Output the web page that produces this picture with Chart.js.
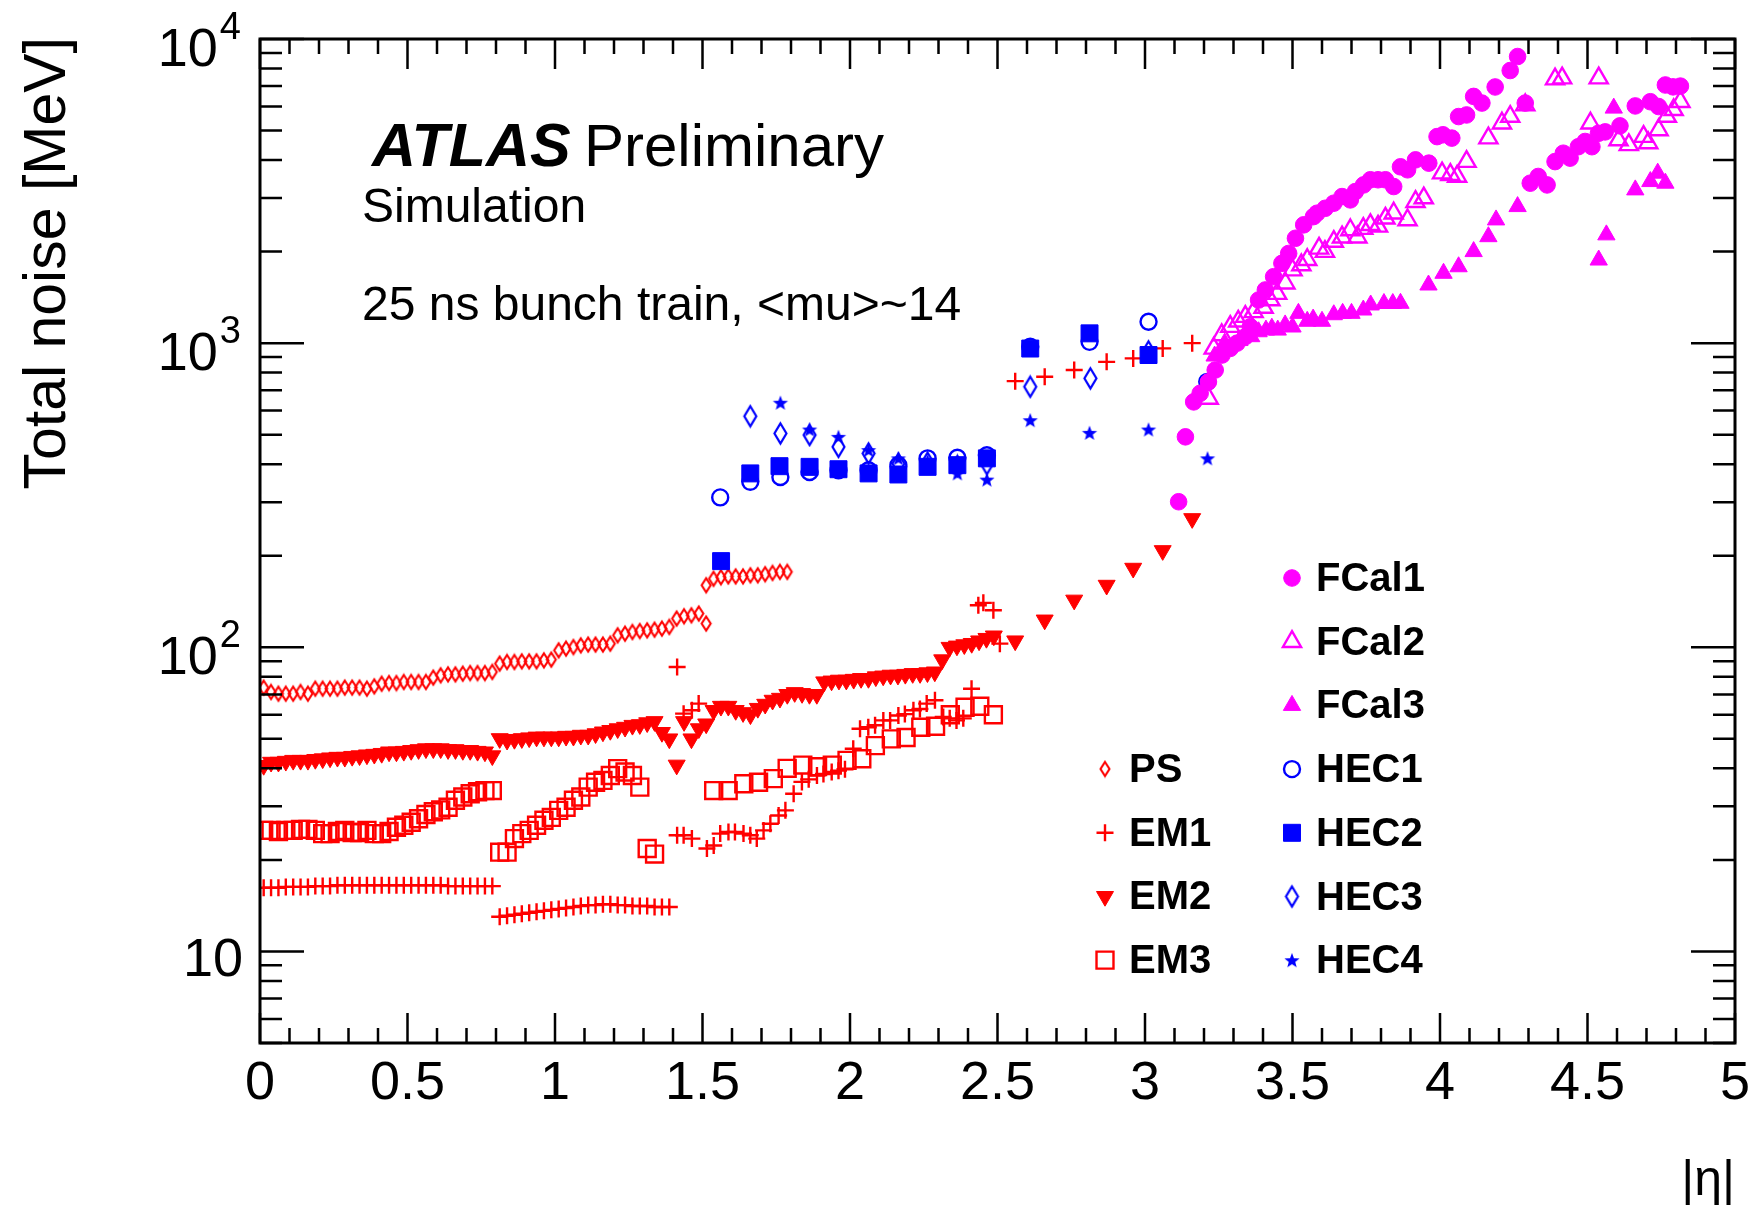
<!DOCTYPE html>
<html>
<head>
<meta charset="utf-8">
<title>Total noise vs |eta|</title>
<script src="https://cdn.jsdelivr.net/npm/chart.js@4.4.1/dist/chart.umd.min.js"></script>
<style>
  html, body { margin: 0; padding: 0; background: #fff; }
  #wrap { width: 1755px; height: 1215px; }
</style>
</head>
<body>
<div id="wrap"><canvas id="noiseChart" width="1755" height="1215"></canvas></div>
<script>
// ---------------------------------------------------------------
// Data (|eta| bins and total noise in MeV)
// ---------------------------------------------------------------
const etaBins = [
  0.0125, 0.0375, 0.0625, 0.0875, 0.1125, 0.1375, 0.1625, 0.1875, 0.2125, 0.2375,
  0.2625, 0.2875, 0.3125, 0.3375, 0.3625, 0.3875, 0.4125, 0.4375, 0.4625, 0.4875,
  0.5125, 0.5375, 0.5625, 0.5875, 0.6125, 0.6375, 0.6625, 0.6875, 0.7125, 0.7375,
  0.7625, 0.7875, 0.8125, 0.8375, 0.8625, 0.8875, 0.9125, 0.9375, 0.9625, 0.9875,
  1.0125, 1.0375, 1.0625, 1.0875, 1.1125, 1.1375, 1.1625, 1.1875, 1.2125, 1.2375,
  1.2625, 1.2875, 1.3125, 1.3375, 1.3625, 1.3875, 1.4125, 1.4375, 1.4625, 1.4875,
  1.5125, 1.5375, 1.5625, 1.5875, 1.6125, 1.6375, 1.6625, 1.6875, 1.7125, 1.7375,
  1.7625, 1.7875, 1.8125, 1.8375, 1.8625, 1.8875, 1.9125, 1.9375, 1.9625, 1.9875,
  2.0125, 2.0375, 2.0625, 2.0875, 2.1125, 2.1375, 2.1625, 2.1875, 2.2125, 2.2375,
  2.2625, 2.2875, 2.3125, 2.3375, 2.3625, 2.3875, 2.4125, 2.4375, 2.4625, 2.4875
];

// PS (presampler)
const psEta = etaBins.slice(0, 60).concat([1.5125]).concat(etaBins.slice(60, 72));
const psNoise = [
  73.7, 71.3, 70.4, 70.4, 70.4, 71.3, 70.4, 73.1, 73.1, 73.1,
  73.1, 73.7, 73.7, 73.7, 73.1, 74.4, 75.9, 76.3, 76.3, 76.9,
  76.9, 76.9, 76.9, 79.5, 80.9, 81.5, 81.5, 81.9, 82.3, 82.3,
  82.3, 83.0, 88.4, 89.5, 89.5, 89.9, 89.9, 89.9, 90.6, 91.1,
  97.7, 99.0, 100.2, 101.5, 102.1, 102.1, 102.1, 102.8, 109.5, 110.9,
  112.3, 113.1, 113.7, 114.3, 115.2, 116.7, 124.3, 126.5, 127.4, 129.1,
  119.7,
  160, 168, 170, 171, 171, 171, 172.5, 172.5, 174, 175.6, 177, 177
];

// EM1 (strips)
const em1EndcapEta = [1.414, 1.436, 1.464, 1.487, 1.414, 1.436, 1.464, 1.515, 1.538, 1.560,
  1.588, 1.610, 1.639, 1.662, 1.684, 1.707, 1.730, 1.758, 1.781, 1.809,
  1.837, 1.860, 1.888, 1.910, 1.938, 1.961, 1.983, 2.011, 2.034, 2.062,
  2.085, 2.113, 2.136, 2.164, 2.186, 2.215, 2.237, 2.260, 2.288, 2.316,
  2.338, 2.361, 2.384, 2.412, 2.435, 2.452, 2.486, 2.508];
const em1InnerWheelEta = [2.56, 2.66, 2.76, 2.87, 2.96, 3.06, 3.16];
const em1Eta = etaBins.slice(0, 56).concat(em1EndcapEta).concat(em1InnerWheelEta);
const em1Noise = [
  16.2, 16.2, 16.2, 16.3, 16.3, 16.3, 16.3, 16.4, 16.4, 16.4,
  16.5, 16.5, 16.5, 16.5, 16.5, 16.5, 16.5, 16.5, 16.5, 16.5,
  16.5, 16.5, 16.5, 16.5, 16.5, 16.4, 16.4, 16.4, 16.4, 16.4,
  16.4, 16.4,
  13.0, 13.1, 13.2, 13.3, 13.4, 13.5, 13.6, 13.7, 13.8, 13.9,
  14.0, 14.1, 14.2, 14.2, 14.3, 14.3, 14.2, 14.2, 14.1, 14.1,
  14.1, 14.0, 14.0, 14.0,
  86.1, 60.5, 62.1, 65.3, 24.1, 24.1, 23.5, 21.8, 22.3, 24.4,
  24.7, 24.7, 24.4, 24.1, 23.5, 25.0, 26.3, 28.0, 29.1, 33.0,
  36.1, 36.8, 37.9, 38.3, 38.9, 39.3, 39.7, 46.4, 54.0, 54.6,
  55.4, 57.5, 57.5, 59.7, 60.3, 62.1, 62.7, 65.3, 67.0, 59.0,
  58.4, 57.5, 58.4, 73.1, 137.5, 140, 132.4, 102.8,
  750, 775, 816, 868, 891, 961, 1000
];

// EM2 (middle)
const em2Eta = etaBins.concat([2.56, 2.66, 2.76, 2.87, 2.96, 3.06, 3.16]);
const em2Noise = [
  40.9, 41.9, 41.9, 42.2, 42.5, 42.5, 42.5, 42.8, 43.0, 43.3,
  43.5, 43.5, 43.8, 44.0, 44.3, 44.5, 44.8, 45.3, 45.3, 45.5,
  45.8, 46.1, 46.4, 46.4, 46.4, 46.1, 46.1, 45.8, 45.8, 45.5,
  45.3, 44.0,
  50.1, 49.5, 49.8, 50.1, 50.4, 50.7, 50.7, 50.7, 50.7, 51.0,
  51.0, 51.4, 51.4, 52.0, 52.7, 53.3, 54.0, 54.6, 55.4, 55.7,
  56.5, 57.0, 52.5, 50.0,
  41, 57, 50, 54, 56, 62, 64, 64, 62, 61,
  60, 63, 65, 67, 68, 70, 71, 70.5, 70, 70,
  77, 77.5, 78, 78, 78.5, 79, 79, 80, 80.5, 81,
  81, 81.5, 82, 82, 82.5, 83, 91, 100, 101, 102,
  103, 105, 107, 109,
  105, 123, 143, 160, 182, 208, 265
];

// EM3 (back)
const em3Eta = etaBins.slice(0, 54).concat([1.538, 1.587, 1.64, 1.69, 1.74, 1.787, 1.84, 1.89,
  1.94, 1.99, 2.04, 2.086, 2.14, 2.19, 2.24, 2.29, 2.34, 2.39, 2.44, 2.486]);
const em3Noise = [
  25.0, 25.0, 24.8, 25.0, 25.0, 25.2, 25.2, 25.0, 24.4, 24.4,
  24.8, 25.0, 24.6, 24.6, 25.0, 24.4, 24.4, 24.8, 25.6, 26.0,
  26.6, 27.3, 28.2, 28.8, 29.2, 29.8, 31.4, 32.2, 33.0, 33.5,
  33.8, 33.8,
  21.2, 21.2, 23.5, 24.4, 25.0, 26.0, 27.0, 27.6, 29.1, 29.8,
  31.4, 32.2, 34.7, 36.0, 36.5, 37.9, 39.9, 38.9, 37.9, 34.7,
  21.8, 20.9,
  33.8, 33.8, 35.6, 36.0, 37.0, 40.0, 41.0, 40.5, 41.0, 42.5,
  43.0, 47.5, 50.0, 50.5, 54.6, 55.0, 60.0, 63.5, 64.0, 60.0
];

// HEC
const hec1Eta = [1.56, 1.662, 1.764, 1.863, 1.961, 2.063, 2.164, 2.263, 2.364, 2.464, 2.611, 2.812, 3.012, 3.211];
const hec1Noise = [311, 350, 363, 377, 382, 382, 397, 418, 420, 428, 973, 1010, 1176, 746];
const hec2Eta = [1.563, 1.662, 1.761, 1.863, 1.961, 2.063, 2.164, 2.263, 2.364, 2.464, 2.611, 2.812, 3.012];
const hec2Noise = [192, 373, 394, 392, 385, 373, 370, 392, 397, 418, 960, 1077, 914];
const hec3Eta = [1.662, 1.764, 1.863, 1.961, 2.063, 2.164, 2.263, 2.364, 2.464, 2.611, 2.815, 3.012];
const hec3Noise = [575, 505, 499, 456, 434, 402, 405, 395, 400, 719, 766, 940];
const hec4Eta = [1.764, 1.863, 1.961, 2.063, 2.164, 2.263, 2.364, 2.464, 2.611, 2.812, 3.012, 3.212];
const hec4Noise = [637, 520, 492, 445, 418, 410, 373, 356, 558, 507, 520, 418];

// FCal
const fcal1Eta = [3.114, 3.137, 3.165, 3.187, 3.215, 3.238, 3.261, 3.289, 3.312, 3.34,
  3.357, 3.385, 3.408, 3.436, 3.464, 3.487, 3.51, 3.538, 3.571, 3.583,
  3.611, 3.64, 3.668, 3.696, 3.713, 3.741, 3.764, 3.79, 3.815, 3.843,
  3.866, 3.89, 3.917, 3.962, 3.99, 4.01, 4.04, 4.063, 4.09, 4.114,
  4.142, 4.187, 4.238, 4.263,
  4.289, 4.306, 4.333, 4.363, 4.39, 4.418, 4.441, 4.469, 4.492, 4.515,
  4.537, 4.56, 4.61, 4.662, 4.713, 4.741, 4.764, 4.79, 4.815];
const fcal1Noise = [301, 492, 641, 684, 746, 816, 914, 961, 1000, 1050,
  1132, 1386, 1496, 1654, 1830, 1972, 2212, 2449, 2606, 2674,
  2776, 2885, 3033, 2958, 3150, 3313, 3445, 3445, 3445, 3273,
  3800, 3715, 4005, 3907, 4776, 4843, 4722, 5559, 5627, 6475,
  6157, 6955, 7877, 8757,
  6157, 3357, 3532, 3313, 3953, 4212, 4058, 4425, 4603, 4425,
  4897, 4950, 5180, 6025, 6220, 5997, 7060, 6960, 7000];
const fcal2Eta = [3.216, 3.233, 3.26, 3.289, 3.316, 3.34, 3.368, 3.402, 3.425, 3.448,
  3.476, 3.5, 3.53, 3.55, 3.59, 3.61, 3.64, 3.668, 3.696, 3.72,
  3.74, 3.764, 3.79, 3.815, 3.843, 3.89, 3.917, 3.945, 4.007, 4.035,
  4.058, 4.09, 4.164, 4.21, 4.238, 4.289, 4.39, 4.414, 4.51, 4.538,
  4.605, 4.64, 4.69, 4.706, 4.741, 4.769, 4.792, 4.815];
const fcal2Noise = [658, 961, 1064, 1133, 1180, 1222, 1267, 1310, 1386, 1455,
  1574, 1738, 1807, 1880, 2050, 2000, 2158, 2230, 2355, 2230,
  2380, 2450, 2420, 2573, 2674, 2540, 2918, 3000, 3622, 3580,
  3532, 3953, 4722, 5285, 5559, 6068, 7382, 7435, 5285, 7435,
  4653, 4488, 4776, 4550, 5024, 5559, 5850, 6220];
const fcal3Eta = [3.236, 3.27, 3.32, 3.36, 3.385, 3.41, 3.43, 3.45, 3.475, 3.50,
  3.52, 3.55, 3.57, 3.60, 3.64, 3.67, 3.70, 3.74, 3.765, 3.81,
  3.84, 3.866, 3.961, 4.012, 4.063, 4.114, 4.164, 4.19, 4.263, 4.538,
  4.564, 4.589, 4.662, 4.713, 4.738, 4.764];
const fcal3Noise = [907, 1000, 1020, 1050, 1090, 1104, 1120, 1104, 1148, 1130,
  1253, 1180, 1200, 1180, 1240, 1253, 1253, 1285, 1335, 1350,
  1350, 1352, 1553, 1697, 1783, 2000, 2239, 2542, 2812, 1876,
  2270, 5926, 3191, 3398, 3622, 3357];

// axis labels
const xTickValues = [0, 0.5, 1, 1.5, 2, 2.5, 3, 3.5, 4, 4.5, 5];
const xTickLabels = ['0', '0.5', '1', '1.5', '2', '2.5', '3', '3.5', '4', '4.5', '5'];
const yTickValues = [10, 100, 1000, 10000];
const yTickExponents = ['', '2', '3', '4'];

const legendRight = ['FCal1', 'FCal2', 'FCal3', 'HEC1', 'HEC2', 'HEC3', 'HEC4'];
const legendLeft = ['PS', 'EM1', 'EM2', 'EM3'];

// ---------------------------------------------------------------
const RED = '#ff0000';
const BLUE = '#0000ff';
const MAGENTA = '#ff00ff';
const FONT = '"Liberation Sans", Arial, Helvetica, sans-serif';

// open tall diamond (ROOT marker 27) as a small canvas
function diamondMarker(w, h, color, lw) {
  const c = document.createElement('canvas');
  c.width = Math.ceil(w + lw * 2);
  c.height = Math.ceil(h + lw * 2);
  const g = c.getContext('2d');
  const cx = c.width / 2, cy = c.height / 2;
  g.strokeStyle = color;
  g.lineWidth = lw;
  g.beginPath();
  g.moveTo(cx, cy - h / 2);
  g.lineTo(cx + w / 2, cy);
  g.lineTo(cx, cy + h / 2);
  g.lineTo(cx - w / 2, cy);
  g.closePath();
  g.stroke();
  return c;
}

// filled five point star (ROOT marker 29)
function starMarker(r, color) {
  const c = document.createElement('canvas');
  c.width = c.height = Math.ceil(r * 2 + 2);
  const g = c.getContext('2d');
  const cx = c.width / 2, cy = c.height / 2 + r * 0.08;
  g.fillStyle = color;
  g.beginPath();
  for (let i = 0; i < 10; i++) {
    const rr = i % 2 === 0 ? r : r * 0.42;
    const ang = -Math.PI / 2 + i * Math.PI / 5;
    const px = cx + rr * Math.cos(ang), py = cy + rr * Math.sin(ang);
    if (i === 0) g.moveTo(px, py); else g.lineTo(px, py);
  }
  g.closePath();
  g.fill();
  return c;
}

function series(label, eta, noise, style) {
  return Object.assign({
    label: label,
    data: eta.map((x, i) => ({ x: x, y: noise[i] })),
    showLine: false
  }, style);
}

const NONE = 'rgba(0,0,0,0)';

const datasets = [
  series('PS', psEta, psNoise, { pointStyle: diamondMarker(9, 14, RED, 2.1), pointRadius: 6, pointBackgroundColor: NONE, pointBorderColor: RED, pointBorderWidth: 2 }),
  series('EM1', em1Eta, em1Noise, { pointStyle: 'cross', pointRadius: 8.5, pointBackgroundColor: RED, pointBorderColor: RED, pointBorderWidth: 2.4 }),
  series('EM2', em2Eta, em2Noise, { pointStyle: 'triangle', pointRotation: 180, pointRadius: 9.8, pointBackgroundColor: RED, pointBorderColor: RED, pointBorderWidth: 1 }),
  series('EM3', em3Eta, em3Noise, { pointStyle: 'rect', pointRadius: 12, pointBackgroundColor: NONE, pointBorderColor: RED, pointBorderWidth: 2.4 }),
  series('HEC1', hec1Eta, hec1Noise, { pointStyle: 'circle', pointRadius: 8, pointBackgroundColor: NONE, pointBorderColor: BLUE, pointBorderWidth: 2.4 }),
  series('HEC2', hec2Eta, hec2Noise, { pointStyle: 'rect', pointRadius: 12, pointBackgroundColor: BLUE, pointBorderColor: BLUE, pointBorderWidth: 1 }),
  series('HEC3', hec3Eta, hec3Noise, { pointStyle: diamondMarker(12, 20, BLUE, 2.2), pointRadius: 8, pointBackgroundColor: NONE, pointBorderColor: BLUE, pointBorderWidth: 2 }),
  series('HEC4', hec4Eta, hec4Noise, { pointStyle: starMarker(8, BLUE), pointRadius: 7, pointBackgroundColor: BLUE, pointBorderColor: BLUE, pointBorderWidth: 0 }),
  series('FCal1', fcal1Eta, fcal1Noise, { pointStyle: 'circle', pointRadius: 8.3, pointBackgroundColor: MAGENTA, pointBorderColor: MAGENTA, pointBorderWidth: 1 }),
  series('FCal2', fcal2Eta, fcal2Noise, { pointStyle: 'triangle', pointRadius: 10.5, pointBackgroundColor: NONE, pointBorderColor: MAGENTA, pointBorderWidth: 2.4 }),
  series('FCal3', fcal3Eta, fcal3Noise, { pointStyle: 'triangle', pointRadius: 10, pointBackgroundColor: MAGENTA, pointBorderColor: MAGENTA, pointBorderWidth: 1 })
];
// later series are drawn on top, as in the original
datasets.forEach((ds, i) => { ds.order = datasets.length - i; });

// ---------------------------------------------------------------
// ROOT-like frame, ticks, labels, texts and legend
// ---------------------------------------------------------------
const atlasFrame = {
  id: 'atlasFrame',
  afterDraw(chart) {
    const ctx = chart.ctx;
    const a = chart.chartArea;
    const xs = chart.scales.x, ys = chart.scales.y;
    ctx.save();
    ctx.strokeStyle = '#000';
    ctx.fillStyle = '#000';

    // ticks on all four sides
    ctx.lineWidth = 2.5;
    ctx.beginPath();
    for (let i = 0; i <= 50; i++) {
      const px = xs.getPixelForValue(i / 10);
      const len = i % 5 === 0 ? 30 : 15;
      ctx.moveTo(px, a.bottom); ctx.lineTo(px, a.bottom - len);
      ctx.moveTo(px, a.top); ctx.lineTo(px, a.top + len);
    }
    for (let d = 1; d <= 10000; d *= 10) {
      for (let m = 1; m <= 9; m++) {
        const v = m * d;
        if (v < ys.min - 1e-9 || v > ys.max + 1e-9) continue;
        const py = ys.getPixelForValue(v);
        const len = m === 1 ? 44 : 22;
        ctx.moveTo(a.left, py); ctx.lineTo(a.left + len, py);
        ctx.moveTo(a.right, py); ctx.lineTo(a.right - len, py);
      }
    }
    ctx.stroke();

    // frame
    ctx.lineWidth = 3;
    ctx.strokeRect(a.left, a.top, a.right - a.left, a.bottom - a.top);

    // x tick labels
    ctx.font = '54px ' + FONT;
    ctx.textAlign = 'center';
    ctx.textBaseline = 'alphabetic';
    xTickValues.forEach((v, i) => {
      ctx.fillText(xTickLabels[i], xs.getPixelForValue(v), 1099);
    });

    // y tick labels (10, 10^2, 10^3, 10^4)
    ctx.textAlign = 'right';
    yTickValues.forEach((v, i) => {
      const py = ys.getPixelForValue(v);
      const exp = yTickExponents[i];
      if (!exp) {
        ctx.font = '54px ' + FONT;
        ctx.fillText('10', 243, py + 25);
      } else {
        ctx.font = '38px ' + FONT;
        ctx.fillText(exp, 241, py);
        const w = ctx.measureText(exp).width;
        ctx.font = '54px ' + FONT;
        ctx.fillText('10', 241 - w - 2, py + 27);
      }
    });

    // axis titles
    ctx.font = '50px ' + FONT;
    ctx.textAlign = 'right';
    ctx.fillText('|\u03b7|', a.right, 1195);

    ctx.save();
    ctx.translate(65, a.top - 2);
    ctx.rotate(-Math.PI / 2);
    ctx.font = '59px ' + FONT;
    ctx.textAlign = 'right';
    ctx.fillText('Total noise [MeV]', 0, 0);
    ctx.restore();

    // ATLAS label
    ctx.textAlign = 'left';
    ctx.font = 'italic bold 61px ' + FONT;
    ctx.fillText('ATLAS', 372, 166);
    ctx.font = '60px ' + FONT;
    ctx.fillText('Preliminary', 584, 166);
    ctx.font = '48px ' + FONT;
    ctx.fillText('Simulation', 362, 222);
    ctx.fillText('25 ns bunch train, <mu>~14', 362, 320);

    // legend
    const drawEntry = (name, mx, my, tx) => {
      const idx = chart.data.datasets.findIndex(ds => ds.label === name);
      if (idx < 0) return;
      const el = chart.getDatasetMeta(idx).data[0];
      const o = el.options;
      ctx.save();
      ctx.fillStyle = o.backgroundColor;
      ctx.strokeStyle = o.borderColor;
      ctx.lineWidth = o.borderWidth;
      Chart.helpers.drawPoint(ctx, {
        pointStyle: o.pointStyle, radius: o.radius, rotation: o.rotation, borderWidth: o.borderWidth
      }, mx, my);
      ctx.restore();
      ctx.fillStyle = '#000';
      ctx.font = 'bold 40px ' + FONT;
      ctx.textAlign = 'left';
      ctx.fillText(name, tx, my + 13);
    };
    legendRight.forEach((name, i) => drawEntry(name, 1292, 578 + i * 63.7, 1316));
    legendLeft.forEach((name, i) => drawEntry(name, 1105, 769 + i * 63.7, 1129));

    ctx.restore();
  }
};

const ctx = document.getElementById('noiseChart').getContext('2d');
new Chart(ctx, {
  type: 'scatter',
  data: { datasets: datasets },
  options: {
    responsive: false,
    animation: false,
    devicePixelRatio: 1,
    events: [],
    layout: { padding: { left: 0, right: 20, top: 39, bottom: 0 } },
    plugins: {
      legend: { display: false },
      tooltip: { enabled: false }
    },
    scales: {
      x: {
        type: 'linear', min: 0, max: 5,
        grid: { display: false }, border: { display: false },
        ticks: { display: false },
        afterFit(scale) { scale.height = 172; }
      },
      y: {
        type: 'logarithmic', min: 5, max: 10000,
        grid: { display: false }, border: { display: false },
        ticks: { display: false },
        afterFit(scale) { scale.width = 260; }
      }
    }
  },
  plugins: [atlasFrame]
});
</script>
</body>
</html>
